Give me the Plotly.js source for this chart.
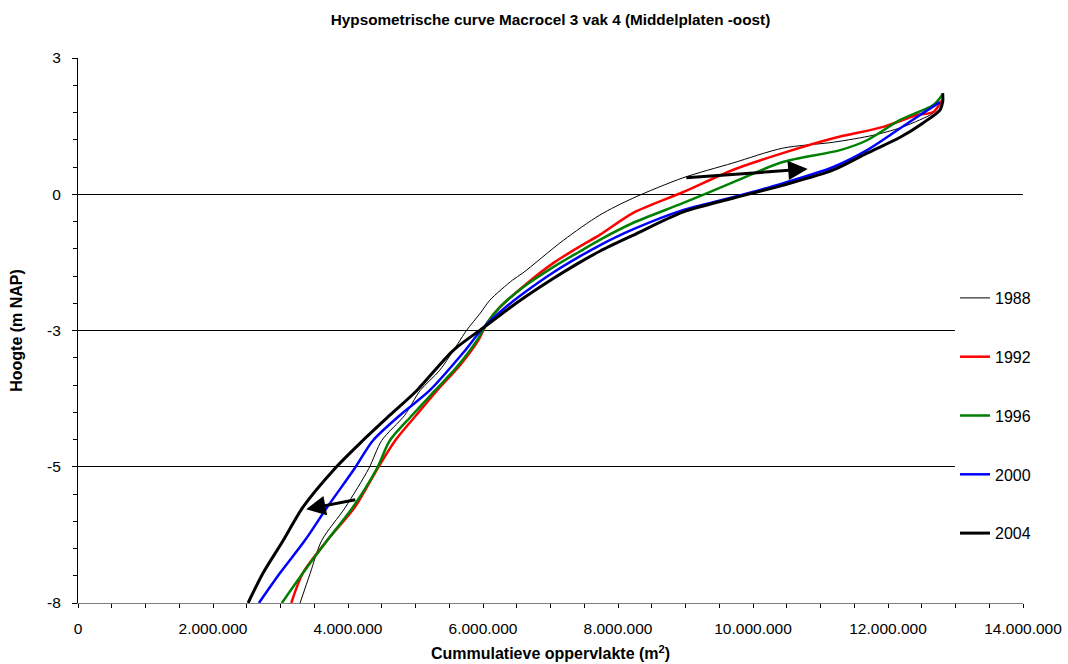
<!DOCTYPE html>
<html>
<head>
<meta charset="utf-8">
<script src="https://cdn.plot.ly/plotly-3.0.1.min.js"></script>
<style>html,body{margin:0;padding:0;background:#fff;}</style>
</head>
<body>
<div id="chart" style="width:1068px;height:664px;"></div>
<script>
// ---- data ----
const years = ['1988', '1992', '1996', '2000', '2004'];

const area1988 = [3290000,3440000,3610000,3960000,4310000,4500000,4840000,5070000,5360000,5630000,5760000,5960000,6100000,6440000,6590000,7190000,7730000,8220000,8960000,9700000,10440000,11190000,11780000,12180000,12470000,12670000,12800000];
const height1988 = [-8.0,-7.40,-6.74,-6.07,-5.28,-4.72,-4.21,-3.71,-3.30,-2.76,-2.49,-2.15,-1.89,-1.48,-1.34,-0.68,-0.17,0.17,0.58,0.88,1.18,1.30,1.44,1.59,1.75,1.89,2.11];

const area1992 = [3160000,3330000,3690000,4100000,4440000,4700000,5010000,5320000,5660000,5930000,6060000,6250000,6650000,7040000,7440000,7730000,8220000,8960000,9700000,10440000,11190000,11930000,12430000,12670000,12800000];
const height1992 = [-8.0,-7.40,-6.74,-6.07,-5.28,-4.72,-4.21,-3.71,-3.20,-2.70,-2.35,-2.03,-1.55,-1.14,-0.80,-0.57,-0.13,0.29,0.74,1.08,1.38,1.61,1.85,1.91,2.15];

const area1996 = [3020000,3330000,3690000,4070000,4430000,4620000,4950000,5290000,5610000,5910000,6060000,6250000,6590000,7040000,7440000,7730000,8220000,8960000,9700000,10440000,11290000,11690000,12180000,12670000,12800000];
const height1996 = [-8.0,-7.40,-6.74,-6.07,-5.28,-4.72,-4.21,-3.71,-3.24,-2.70,-2.35,-2.03,-1.63,-1.22,-0.90,-0.67,-0.33,0.07,0.49,0.90,1.14,1.34,1.75,2.05,2.25];

const area2000 = [2680000,2990000,3360000,3690000,4100000,4370000,4770000,5210000,5700000,6000000,6300000,6650000,7040000,7440000,7730000,8220000,8960000,9700000,10440000,11190000,11690000,12070000,12430000,12770000];
const height2000 = [-8.0,-7.40,-6.74,-6.07,-5.28,-4.72,-4.21,-3.71,-2.96,-2.45,-2.07,-1.70,-1.33,-1.00,-0.78,-0.46,-0.07,0.19,0.47,0.80,1.14,1.48,1.81,2.11];

const area2004 = [2520000,2740000,3040000,3330000,3810000,4220000,4620000,5020000,5560000,6000000,6360000,6650000,7040000,7440000,7730000,8220000,8960000,9700000,10440000,11190000,11690000,12180000,12520000,12770000,12810000,12810000];
const height2004 = [-8.0,-7.40,-6.74,-6.07,-5.28,-4.72,-4.21,-3.71,-2.90,-2.45,-2.08,-1.80,-1.45,-1.12,-0.90,-0.58,-0.11,0.17,0.43,0.74,1.08,1.40,1.69,1.95,2.11,2.29];

// y tick positions (Excel-style rounded labels)
const yTickVals = [3, 0.25, -2.5, -5.25, -8];
const yTickText = ['3', '0', '-3', '-5', '-8'];
const xTickVals = [0, 2000000, 4000000, 6000000, 8000000, 10000000, 12000000, 14000000];
const xTickText = ['0', '2.000.000', '4.000.000', '6.000.000', '8.000.000', '10.000.000', '12.000.000', '14.000.000'];

// annotation arrows: [tailX, tailY, tipX, tipY]
const arrowUpper = [8990000, 0.58, 10810000, 0.76];
const arrowLower = [4130000, -5.91, 3380000, -6.11];

// ---- chart ----
const FONT = 'Liberation Sans, Arial, sans-serif';
const areas = [area1988, area1992, area1996, area2000, area2004];
const heights = [height1988, height1992, height1996, height2000, height2004];
const colors = ['#000000', '#FF0000', '#008000', '#0000FF', '#000000'];
const widths = [1, 2.5, 2.5, 2.5, 3];

const traces = years.map((yr, i) => ({
  type: 'scatter', mode: 'lines',
  x: areas[i], y: heights[i], name: yr,
  legendgroup: 'g' + yr,
  line: {color: colors[i], width: widths[i], shape: 'spline', smoothing: 0.8},
  hoverinfo: 'x+y+name'
}));

function arrowAnn(a) {
  return {
    x: a[2], y: a[3], ax: a[0], ay: a[1],
    xref: 'x', yref: 'y', axref: 'x', ayref: 'y',
    text: '', showarrow: true, arrowhead: 2, arrowsize: 1.3,
    arrowwidth: 3, arrowcolor: '#000000'
  };
}

const layout = {
  width: 1068, height: 664,
  margin: {l: 78, r: 45, t: 58, b: 61},
  paper_bgcolor: '#ffffff', plot_bgcolor: '#ffffff',
  font: {family: FONT, size: 15, color: '#000000'},
  title: {
    text: 'Hypsometrische curve Macrocel 3 vak 4 (Middelplaten -oost)',
    font: {family: FONT, size: 15.3, weight: 700, color: '#000000'},
    xref: 'paper', x: 0.5, xanchor: 'center',
    yref: 'container', y: 1 - 20 / 664, yanchor: 'middle'
  },
  xaxis: {
    range: [0, 14000000],
    tickmode: 'array', tickvals: xTickVals, ticktext: xTickText,
    ticks: 'outside', ticklen: 4, tickcolor: '#000000', tickwidth: 1,
    ticklabelstandoff: 7,
    minor: {tick0: 0, dtick: 500000, ticks: 'outside', ticklen: 4, tickcolor: '#000000', showgrid: false},
    showgrid: false, zeroline: false,
    showline: true, linecolor: '#808080', linewidth: 1,
    tickfont: {family: FONT, size: 15.5, color: '#000000'},
    title: {text: 'Cummulatieve oppervlakte (m<sup>2</sup>)', font: {family: FONT, size: 16, weight: 700, color: '#000000'}, standoff: 12}
  },
  yaxis: {
    range: [-8, 3],
    tickmode: 'array', tickvals: yTickVals, ticktext: yTickText,
    ticks: 'outside', ticklen: 5, tickcolor: '#000000', tickwidth: 1,
    ticklabelstandoff: 8,
    minor: {tick0: -8, dtick: 0.55, ticks: 'outside', ticklen: 4, tickcolor: '#000000', showgrid: false},
    showgrid: true, gridcolor: '#000000', gridwidth: 1, zeroline: false,
    showline: true, linecolor: '#000000', linewidth: 1,
    tickfont: {family: FONT, size: 15.5, color: '#000000'},
    title: {text: 'Hoogte (m NAP)', font: {family: FONT, size: 16, weight: 700, color: '#000000'}, standoff: 20}
  },
  showlegend: true,
  legend: {
    x: (955 - 78) / 945, xanchor: 'left',
    y: (603 - 281) / 545, yanchor: 'top',
    bgcolor: '#ffffff', borderwidth: 0,
    font: {family: FONT, size: 16, color: '#000000'},
    tracegroupgap: 35, traceorder: 'grouped'
  },
  annotations: [arrowAnn(arrowUpper), arrowAnn(arrowLower)]
};

Plotly.newPlot('chart', traces, layout, {displayModeBar: false, staticPlot: true});
</script>
</body>
</html>
